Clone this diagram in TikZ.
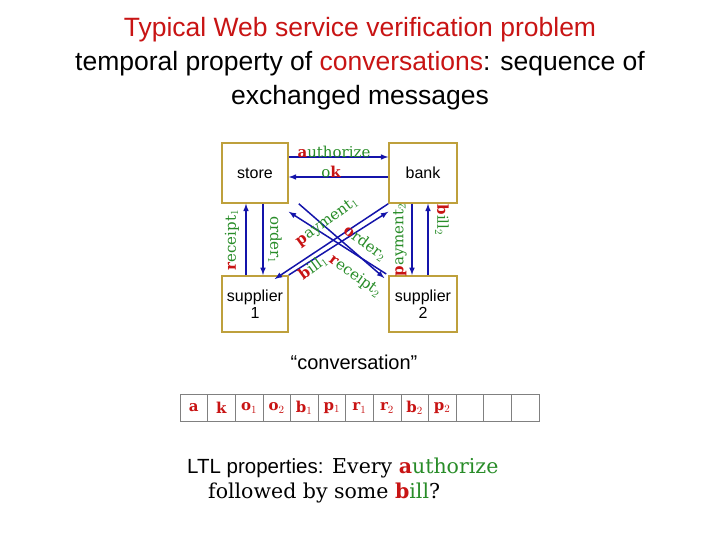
\documentclass[tikz,border=0pt]{standalone}
\usepackage{fontspec}
\setmainfont{DejaVu Serif}
\setsansfont{Liberation Sans}
\begin{document}
\begin{tikzpicture}[x=1pt,y=-1pt,
  box/.style={draw=boxc,line width=1.5pt,inner sep=0pt,font=\sffamily\fontsize{16}{17}\selectfont,align=center},
  arr/.style={draw=arrc,line width=1.5pt,-latex},
  lab/.style={inner sep=0pt,font=\fontsize{15}{15}\selectfont,text=gl},
  cell/.style={draw=gray,minimum width=27.6pt,minimum height=27pt,inner sep=0pt,font=\bfseries\fontsize{15}{15}\selectfont,text=rd}]
\definecolor{boxc}{RGB}{190,160,60}
\definecolor{arrc}{RGB}{20,20,170}
\definecolor{rd}{RGB}{200,20,20}
\definecolor{gl}{RGB}{40,140,40}
\useasboundingbox (0,0) rectangle (720,540);
\node[font=\sffamily\fontsize{26.5}{34}\selectfont,align=center] (title) at (360,64)
 {\textcolor{rd}{Typical Web service verification problem}\\temporal property of \textcolor{rd}{conversations}: sequence of\\exchanged messages};
\node[box,minimum width=66pt,minimum height=60pt] (st) at (255,173) {store};
\node[box,minimum width=68pt,minimum height=60pt] (bk) at (423,173) {bank};
\node[box,minimum width=66pt,minimum height=56pt,anchor=north] (s1) at (255,275) {supplier\\1};
\node[box,minimum width=68pt,minimum height=56pt,anchor=north] (s2) at (423,275) {supplier\\2};
\draw[arr] (st.east|-0,157) -- (bk.west|-0,157);
\draw[arr] (bk.west|-0,177) -- (st.east|-0,177);
\draw[arr] (s1.north-|246,0) -- (st.south-|246,0);
\draw[arr] (st.south-|263,0) -- (s1.north-|263,0);
\draw[arr] (bk.south-|412,0) -- (s2.north-|412,0);
\draw[arr] (s2.north-|428,0) -- (bk.south-|428,0);
\draw[arr] ([xshift=10pt]st.south east) -- ([xshift=-4pt,yshift=-3pt]s2.north west);
\draw[arr] ([xshift=-2pt,yshift=1pt]s2.north west) -- ([yshift=-8pt]st.south east);
\draw[arr] (bk.south west) -- ([xshift=-14pt,yshift=-4pt]s1.north east);
\draw[arr] (s1.north east) -- ([yshift=-8pt]bk.south west);
\node[lab] at (334,157) [above=-1pt] {\textcolor{rd}{\bfseries a}uthorize};
\node[lab] at (331,177) [above=-1pt] {o\textcolor{rd}{\bfseries k}};
\node[lab,rotate=90] at (232,240) {\textcolor{rd}{\bfseries r}eceipt$_1$};
\node[lab,rotate=-90] at (275,240) {order$_1$};
\node[lab,rotate=90] at (400,240) {\textcolor{rd}{\bfseries p}ayment$_2$};
\node[lab,rotate=-90] at (442,220) {\textcolor{rd}{\bfseries b}ill$_2$};
\node[lab,rotate=36] at (327,222) {\textcolor{rd}{\bfseries p}ayment$_1$};
\node[lab,rotate=-36] at (365,243) {\textcolor{rd}{\bfseries o}rder$_2$};
\node[lab,rotate=36] at (313,268) {\textcolor{rd}{\bfseries b}ill$_1$};
\node[lab,rotate=-36] at (355,276) {\textcolor{rd}{\bfseries r}eceipt$_2$};
\node[font=\sffamily\fontsize{20}{20}\selectfont] (cv) at (354,362) {``conversation''};
\foreach \t [count=\i from 0] in {a,k,o$_1$,o$_2$,b$_1$,p$_1$,r$_1$,r$_2$,b$_2$,p$_2$,,,}{
  \node[cell] (c\i) at (193.8+27.6*\i,408) {\t};}
\node[anchor=west,font=\fontsize{20.5}{25}\selectfont,align=left,inner sep=0pt] (ltl) at (187,480)
 {{\sffamily\fontsize{20.5}{25}\selectfont LTL properties:} Every \textcolor{rd}{\bfseries a}\textcolor{gl}{uthorize}\\
 \hspace*{21pt}followed by some \textcolor{rd}{\bfseries b}\textcolor{gl}{ill}?};
\end{tikzpicture}
\end{document}
